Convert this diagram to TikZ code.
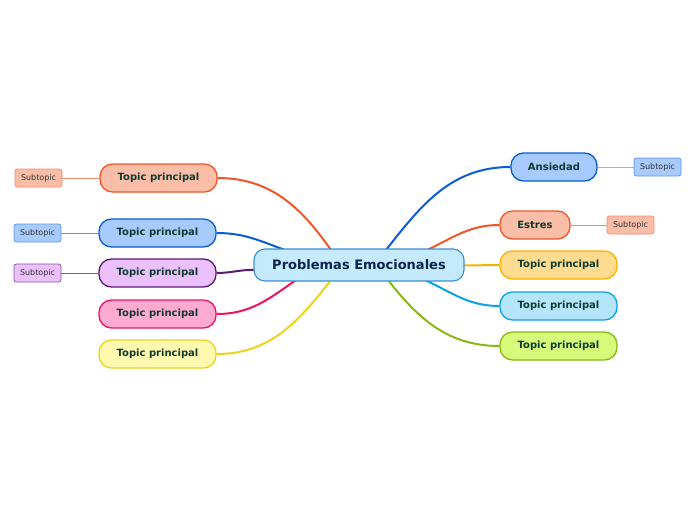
\documentclass[tikz,border=0pt]{standalone}
\usepackage{fontspec}
\setmainfont{DejaVu Sans}
\usetikzlibrary{backgrounds}
\definecolor{orF}{HTML}{F9BDA8}\definecolor{orD}{HTML}{F0562A}\definecolor{orL}{HTML}{F58A68}
\definecolor{blF}{HTML}{A7CBFE}\definecolor{blD}{HTML}{0A5CD6}\definecolor{blL}{HTML}{5C95EE}
\definecolor{puF}{HTML}{EBC0FD}\definecolor{puD}{HTML}{5A1A70}\definecolor{puL}{HTML}{8E4FA6}
\definecolor{piF}{HTML}{FFAAD0}\definecolor{piD}{HTML}{EE1266}
\definecolor{yeF}{HTML}{FFF9B0}\definecolor{yeD}{HTML}{EBD41E}
\definecolor{ceF}{HTML}{C5EAFB}\definecolor{ceD}{HTML}{3A8FD0}
\definecolor{goF}{HTML}{FFDB8F}\definecolor{goD}{HTML}{F6B200}
\definecolor{cyF}{HTML}{B4E5FB}\definecolor{cyD}{HTML}{0BA2E3}
\definecolor{liF}{HTML}{D6FA7A}\definecolor{liD}{HTML}{88B812}
\definecolor{txG}{HTML}{0E3B2E}\definecolor{txN}{HTML}{0B2352}
\tikzset{
  topic/.style 2 args={draw=#1, fill=#2, line width=1.3pt, rounded corners=12.5pt,
    minimum height=28pt, inner sep=0pt, text=txG, font=\fontsize{10}{12}\selectfont\bfseries},
  subt/.style 2 args={draw=#1, fill=#2, line width=0.8pt, rounded corners=2.5pt,
    minimum width=47pt, minimum height=18pt, inner sep=0pt, text=black!80, font=\fontsize{8}{9}\selectfont},
  link/.style={line width=2pt},
  sublink/.style={line width=0.9pt}
}
\begin{document}
\begin{tikzpicture}[x=1pt,y=-1pt]
\useasboundingbox (0,0) rectangle (696,520);
% central
\node[draw=ceD, fill=ceF, line width=1.1pt, rounded corners=11pt, minimum width=210pt, minimum height=32pt,
  inner sep=0pt, text=txN, font=\fontsize{13}{15}\selectfont\bfseries] (c) at (359,265) {Problemas Emocionales};
% left topics
\node[topic={orD}{orF}, minimum width=117pt] (t1) at (158.5,178) {Topic principal};
\node[topic={blD}{blF}, minimum width=117pt] (t2) at (157.5,233) {Topic principal};
\node[topic={puD}{puF}, minimum width=117pt] (t3) at (157.5,273) {Topic principal};
\node[topic={piD}{piF}, minimum width=117pt] (t4) at (157.5,314) {Topic principal};
\node[topic={yeD}{yeF}, minimum width=117pt] (t5) at (157.5,354) {Topic principal};
% right topics
\node[topic={blD}{blF}, minimum width=86pt] (r1) at (554,167) {Ansiedad};
\node[topic={orD}{orF}, minimum width=70pt] (r2) at (535,225) {Estres};
\node[topic={goD}{goF}, minimum width=117pt] (r3) at (558.5,265) {Topic principal};
\node[topic={cyD}{cyF}, minimum width=117pt] (r4) at (558.5,306) {Topic principal};
\node[topic={liD}{liF}, minimum width=117pt] (r5) at (558.5,346) {Topic principal};
% subtopics
\node[subt={orL}{orF}] (s1) at (38.5,178) {Subtopic};
\node[subt={blL}{blF}] (s2) at (37.5,233) {Subtopic};
\node[subt={puL}{puF}] (s3) at (37.5,273) {Subtopic};
\node[subt={blL}{blF}] (s4) at (657.5,167) {Subtopic};
\node[subt={orL}{orF}] (s5) at (630.5,225) {Subtopic};
% start points on central node
\coordinate (p1) at (331,250);
\coordinate (p2) at (285,250);
\coordinate (p3) at (255,270);
\coordinate (p4) at (296,280);
\coordinate (p5) at (331,280);
\coordinate (q1) at (386,250);
\coordinate (q2) at (427,250);
\coordinate (q3) at (463,265.5);
\coordinate (q4) at (425,280);
\coordinate (q5) at (388,280);
\begin{pgfonlayer}{background}
\draw[link, orD] (p1) to[out=125,in=0] (t1.east);
\draw[link, blD] (p2) to[out=160,in=0] (t2.east);
\draw[link, puD] (p3) to[out=178,in=0] (t3.east);
\draw[link, piD] (p4) to[out=215,in=0] (t4.east);
\draw[link, yeD] (p5) to[out=232,in=0] (t5.east);
\draw[link, blD] (q1) to[out=52,in=180] (r1.west);
\draw[link, orD] (q2) to[out=25,in=180] (r2.west);
\draw[link, goD] (q3) -- (r3.west);
\draw[link, cyD] (q4) to[out=-25,in=180] (r4.west);
\draw[link, liD] (q5) to[out=-52,in=180] (r5.west);
\draw[sublink, orL] (t1.west) -- (s1.east);
\draw[sublink, blL] (t2.west) -- (s2.east);
\draw[sublink, puL] (t3.west) -- (s3.east);
\draw[sublink, blL!70] (r1.east) -- (s4.west);
\draw[sublink, orL] (r2.east) -- (s5.west);
\end{pgfonlayer}
\end{tikzpicture}
\end{document}
